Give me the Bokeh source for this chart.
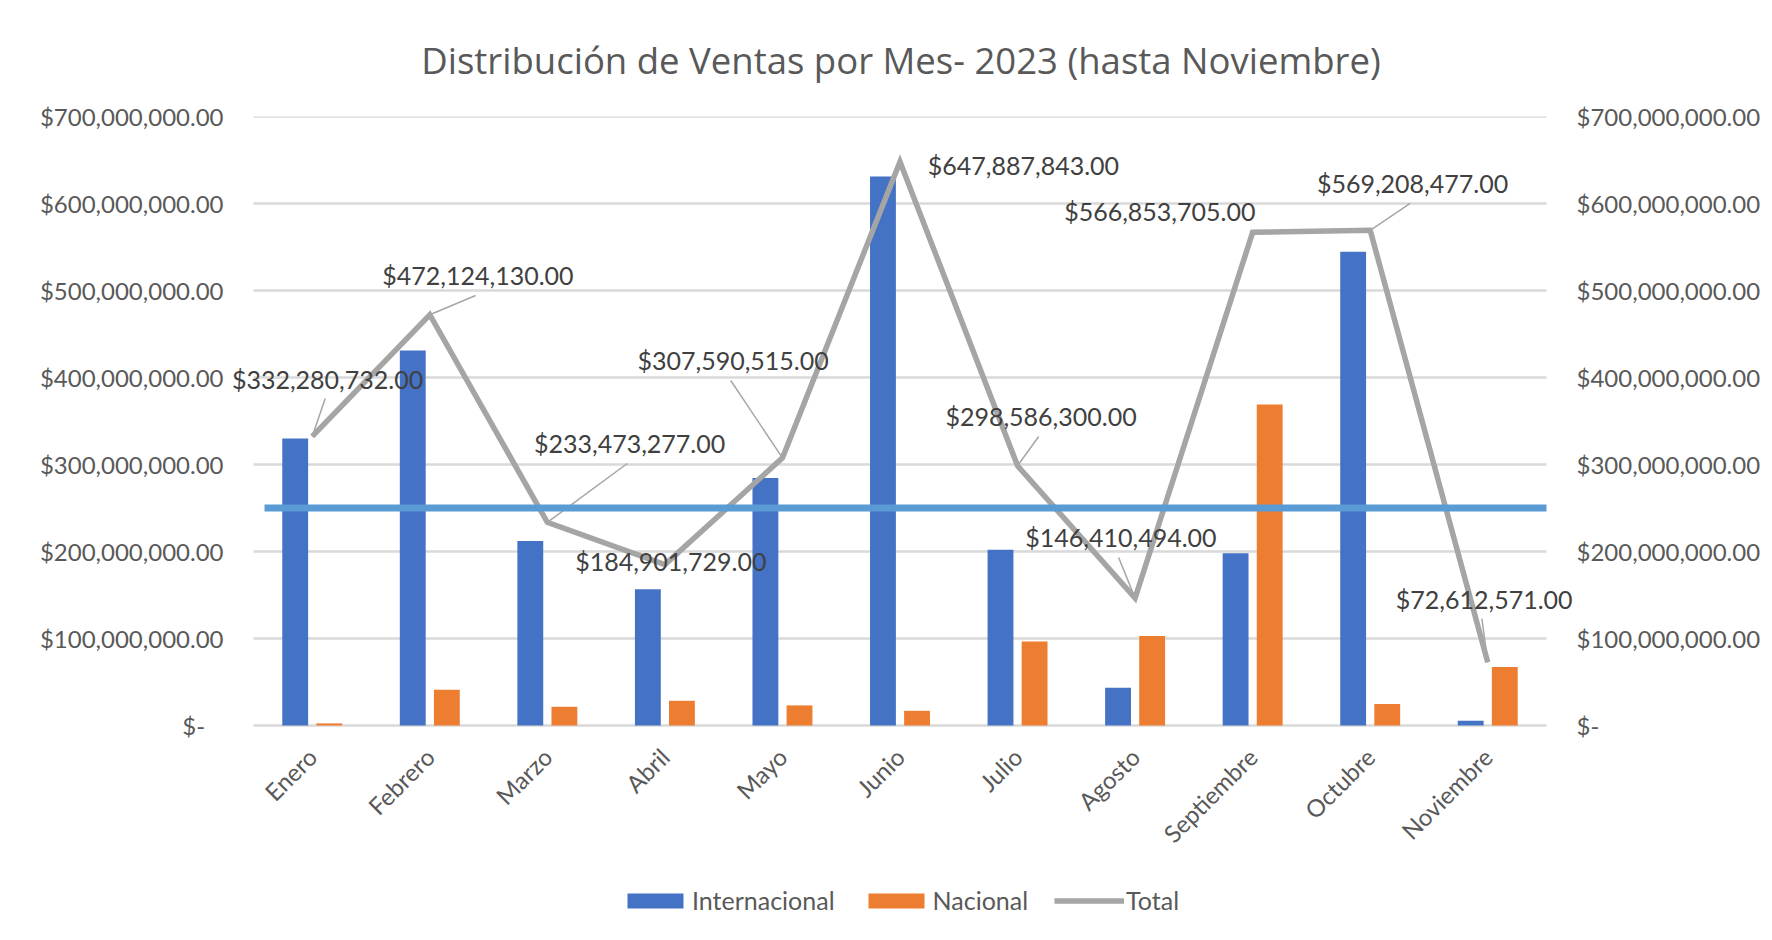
from bokeh.plotting import figure
from bokeh.models import (Range1d, LinearAxis, FixedTicker, NumeralTickFormatter,
                          Legend, LegendItem, ColumnDataSource)
from bokeh.core.properties import value
from bokeh.embed import file_html
from bokeh.resources import INLINE
from math import pi

# ---------------- data ----------------
meses = ["Enero", "Febrero", "Marzo", "Abril", "Mayo", "Junio", "Julio",
         "Agosto", "Septiembre", "Octubre", "Noviembre"]
internacional = [329.9e6, 431.0e6, 212.0e6, 156.5e6, 284.5e6, 631.0e6,
                 202.0e6, 43.5e6, 198.0e6, 544.5e6, 5.5e6]
nacional = [2.4e6, 41.1e6, 21.5e6, 28.4e6, 23.1e6, 16.9e6,
            96.6e6, 102.9e6, 368.9e6, 24.7e6, 67.1e6]
total = [332280732.00, 472124130.00, 233473277.00, 184901729.00, 307590515.00,
         647887843.00, 298586300.00, 146410494.00, 566853705.00, 569208477.00,
         72612571.00]
meta = 250_000_000
y_ticks = [0, 100e6, 200e6, 300e6, 400e6, 500e6, 600e6, 700e6]

# label placement (category units / value units relative to each point)
label_dx = [0.13, 0.41, 0.70, 0.05, -0.42, 1.05, 0.20, -0.12, -0.79, 0.36, -0.03]
label_dy = [66.5e6, 45.2e6, 90.7e6, 4.7e6, 112e6, -3.1e6, 56.6e6, 69.7e6, 25.1e6, 53.8e6, 73.3e6]
has_leader = [1, 1, 1, 0, 1, 0, 1, 1, 0, 1, 1]

# ---------------- styles ----------------
FONT = "Lato"
TFONT = "Open Sans"
BLUE = "#4472C4"
ORANGE = "#ED7D31"
GRAY = "#A5A5A5"
TARGET = "#5B9BD5"
TXT = "#595959"
GRID = "#D9D9D9"

n = len(meses)
xc = [i + 0.5 for i in range(n)]
bw = 0.22
off = 0.145
PAD_L, PAD_R = 0.238, 0.255      # extra room so edge labels are not clipped
CAT_PX = 117.55
TARGET_INSET = 0.094
VAL_PX = 609                      # pixel height of the 0..700M value span
BELOW_PX = 200                    # room under zero for month labels and legend
Y_MAX = 700e6
Y_MIN = -Y_MAX * BELOW_PX / VAL_PX

src = ColumnDataSource(dict(
    xi=[x - off for x in xc], xn=[x + off for x in xc], x=xc,
    intl=internacional, nac=nacional, total=total,
))

p = figure(frame_width=round((n + PAD_L + PAD_R) * CAT_PX), frame_height=VAL_PX + BELOW_PX,
           output_backend="svg", toolbar_location=None, x_axis_location=None,
           x_range=Range1d(-PAD_L, n + PAD_R), y_range=Range1d(Y_MIN, Y_MAX),
           min_border_left=225, min_border_right=0, min_border_top=116,
           min_border_bottom=0)
p.outline_line_color = None
p.background_fill_color = "white"
p.border_fill_color = "white"

# title
p.title.text = "Distribución de Ventas por Mes- 2023 (hasta Noviembre)"
p.title.align = "center"
p.title.text_font = TFONT
p.title.text_font_size = "36.5px"
p.title.text_font_style = "normal"
p.title.text_color = TXT
p.title.standoff = 63
p.title.offset = -5

# grid (drawn over the category span only)
p.xgrid.visible = False
p.ygrid.visible = False
p.segment(x0=[0] * len(y_ticks), x1=[n] * len(y_ticks), y0=y_ticks, y1=y_ticks,
          line_color=GRID, line_width=2.5)

# y axes
fmt = NumeralTickFormatter(format="$0,0.00")
yl = p.yaxis[0]
yl.ticker = FixedTicker(ticks=y_ticks)
yl.formatter = fmt
yl.major_label_overrides = {0: "$-\u00a0\u00a0\u00a0"}
yl.major_label_standoff = 2
yr = LinearAxis(ticker=FixedTicker(ticks=y_ticks), formatter=fmt)
yr.major_label_overrides = {0: "$-"}
yr.major_label_standoff = 0
p.add_layout(yr, "right")
for ax in (yl, yr):
    ax.axis_line_color = None
    ax.major_tick_line_color = None
    ax.minor_tick_line_color = None
    ax.major_tick_out = 0
    ax.major_tick_in = 0
    ax.major_label_text_font = FONT
    ax.major_label_text_font_size = "24px"
    ax.major_label_text_color = TXT

# month labels under the zero line, rotated 45 degrees
p.text(x=xc, y=[0] * n, text=meses, angle=pi / 4, y_offset=27,
       text_font=value(FONT), text_font_size="24px", text_color=TXT,
       text_align="right", text_baseline="middle")

# bars
r_int = p.vbar(x="xi", top="intl", width=bw, source=src, fill_color=BLUE, line_color=None)
r_nac = p.vbar(x="xn", top="nac", width=bw, source=src, fill_color=ORANGE, line_color=None)

# total line
r_tot = p.line(x="x", y="total", source=src, line_color=GRAY, line_width=5.5,
               line_join="miter")

# data labels and leader lines
lx = [x + d for x, d in zip(xc, label_dx)]
ly = [t + d for t, d in zip(total, label_dy)]
lead = [i for i in range(n) if has_leader[i]]
p.segment(x0=[lx[i] - 0.02 for i in lead], y0=[ly[i] - 23e6 for i in lead],
          x1=[xc[i] for i in lead], y1=[total[i] for i in lead],
          line_color="#A6A6A6", line_width=1.5)
p.text(x=lx, y=ly, text=[f"${v:,.2f}" for v in total],
       text_font=value(FONT), text_font_size="25px", text_color="#404040",
       text_align="center", text_baseline="middle")

# target line
p.segment(x0=[TARGET_INSET], x1=[n], y0=[meta], y1=[meta],
          line_color=TARGET, line_width=7)

# legend at the bottom of the plot area
legend = Legend(items=[LegendItem(label="Internacional", renderers=[r_int]),
                       LegendItem(label="Nacional", renderers=[r_nac]),
                       LegendItem(label="Total", renderers=[r_tot])],
                orientation="horizontal", location=(395, 9),
                border_line_color=None, background_fill_alpha=0,
                glyph_width=70, glyph_height=19, label_height=32,
                label_standoff=2, spacing=26,
                label_text_font=FONT, label_text_font_size="25px",
                label_text_color=TXT, margin=0, padding=0)
p.add_layout(legend, "center")

open("out.html", "w").write(file_html(p, INLINE))
